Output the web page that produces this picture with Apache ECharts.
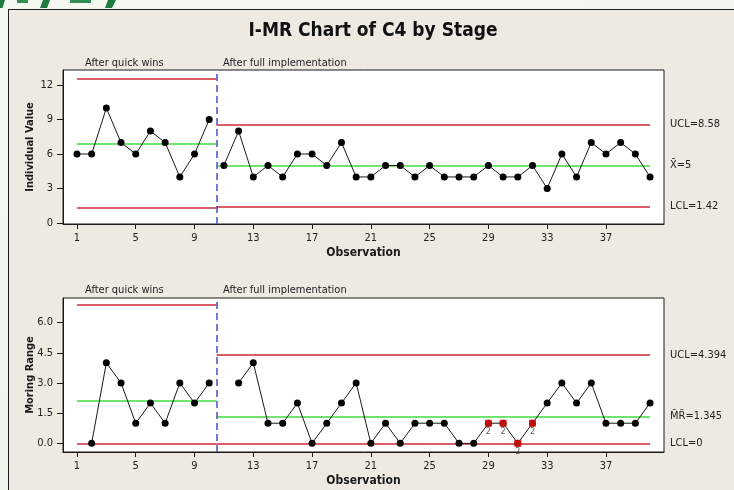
<!DOCTYPE html>
<html>
<head>
<meta charset="utf-8">
<script src="https://cdn.jsdelivr.net/npm/echarts@6/dist/echarts.min.js"></script>
<style>
  html, body { margin: 0; padding: 0; width: 734px; height: 490px; overflow: hidden;
    background: linear-gradient(160deg, #f4f8f0 0%, #eef3ea 100%); }
  #panel { position: absolute; left: 8px; top: 9px; width: 760px; height: 520px;
    background: #eeeae2; border: 1.5px solid #1e1e1e; box-sizing: border-box; }
  #logo { position: absolute; left: 0; top: 0; }
  #chart { position: absolute; left: 0; top: 0; width: 734px; height: 490px; }
</style>
</head>
<body>
<svg id="logo" width="130" height="10" viewBox="0 0 130 10">
  <path d="M0 0 L5 0 L2.5 8 L0 8 Z" fill="#1f7a3e"/>
  <rect x="17" y="0" width="11" height="3" fill="#2f8f55"/>
  <path d="M43 0 L50 0 L47 8 L40 8 Z" fill="#1f7a3e"/>
  <rect x="70" y="0" width="21" height="3" fill="#2f8f55"/>
  <path d="M108 0 L116 0 L112 8 L105 8 Z" fill="#1f7a3e"/>
</svg>
<div id="panel"></div>
<div id="chart"></div>
<script>
// Individual measurements, one array per stage (observations 1-10 and 11-40)
const stage1Values = [6, 6, 10, 7, 6, 8, 7, 4, 6, 9];
const stage2Values = [5, 8, 4, 5, 4, 6, 6, 5, 7, 4,
                      4, 5, 5, 4, 5, 4, 4, 4, 5, 4,
                      4, 5, 3, 6, 4, 7, 6, 7, 6, 4];

// Moving ranges (first point of each stage has none)
const stage1MR = [null, 0, 4, 3, 1, 2, 1, 3, 2, 3];
const stage2MR = [null, 3, 4, 1, 1, 2, 0, 1, 2, 3,
                  0, 1, 0, 1, 1, 1, 0, 0, 1, 1,
                  0, 1, 2, 3, 2, 3, 1, 1, 1, 2];

// First observation number of each stage
const stage1Start = 1;
const stage2Start = 11;
const stageBoundary = 10.5;
const lastObs = 40;

// Control limits [UCL, centre, LCL]
const iLimits1 = [12.52, 6.9, 1.28];
const iLimits2 = [8.58, 5, 1.42];
const mrLimits1 = [6.897, 2.111, 0];
const mrLimits2 = [4.394, 1.345, 0];

// Points failing test 2 on the moving range chart
const flaggedObs = [29, 30, 31, 32];
const flaggedTest = ['2', '2', '2', '2'];

// Tick labels
const xTicks = [1, 5, 9, 13, 17, 21, 25, 29, 33, 37];
const iTicks = [0, 3, 6, 9, 12];
const mrTicks = [0, 1.5, 3, 4.5, 6];

const stageNames = ['After quick wins', 'After full implementation'];

const FONT = "'DejaVu Sans Condensed', 'Liberation Sans', sans-serif";
const RED = '#cc2b37';
const GREEN = '#3fdc3f';
const INK = '#1a1a1a';

function pairs(values, start) {
  return values.map((v, i) => [start + i, v]);
}

function limitLines(lims, from, to, labels) {
  const colors = [RED, GREEN, RED];
  return lims.map((v, k) => {
    const seg = [
      { coord: [from, v], lineStyle: { color: colors[k] } },
      { coord: [to, v] }
    ];
    if (labels) {
      seg[0].label = {
        show: true, position: 'end', distance: 20,
        formatter: labels[k] + '=' + v,
        color: '#222', fontSize: 11, fontFamily: FONT
      };
    } else {
      seg[0].label = { show: false };
    }
    return seg;
  });
}

function xAxisFor(gridIndex) {
  return {
    type: 'value', gridIndex, min: 0.05, max: 40.95,
    name: 'Observation', nameLocation: 'middle', nameGap: 23,
    nameTextStyle: { fontWeight: 'bold', fontSize: 12, color: INK, fontFamily: FONT },
    axisLine: { show: true, onZero: false, lineStyle: { color: INK, width: 1 } },
    axisTick: { show: true, length: 5, customValues: xTicks, lineStyle: { color: INK } },
    axisLabel: { customValues: xTicks, margin: 9, fontSize: 11, color: '#222', fontFamily: FONT },
    splitLine: { show: false }
  };
}

function yAxisFor(gridIndex, min, max, ticks, name, digits) {
  return {
    type: 'value', gridIndex, min, max,
    name, nameLocation: 'middle', nameGap: 27, nameRotate: 90, nameMoveOverlap: false,
    nameTextStyle: { fontWeight: 'bold', fontSize: 11, color: INK, fontFamily: FONT },
    axisLine: { show: true, onZero: false, lineStyle: { color: INK, width: 1 } },
    axisTick: { show: true, length: 6, customValues: ticks, lineStyle: { color: INK } },
    axisLabel: { customValues: ticks, margin: 10, fontSize: 11, color: '#222', fontFamily: FONT,
                 formatter: v => v.toFixed(digits) },
    splitLine: { show: false }
  };
}

function dataSeries(values, start, xi, yi) {
  return {
    type: 'line', xAxisIndex: xi, yAxisIndex: yi, z: 5,
    data: pairs(values, start),
    symbol: 'circle', symbolSize: 7, connectNulls: false,
    lineStyle: { color: INK, width: 1 },
    itemStyle: { color: '#000' },
    emphasis: { disabled: true }, animation: false
  };
}

function limitSeries(xi, yi, lims1, lims2, labels) {
  return {
    type: 'line', xAxisIndex: xi, yAxisIndex: yi, z: 2, data: [],
    markLine: {
      silent: true, symbol: 'none', animation: false,
      lineStyle: { width: 1.5, type: 'solid' },
      data: [
        ...limitLines(lims1, stage1Start, stageBoundary, null),
        ...limitLines(lims2, stageBoundary, lastObs, labels),
        { xAxis: stageBoundary, label: { show: false },
          lineStyle: { color: '#4a4fc8', width: 1.5, type: [7, 4] } }
      ]
    }
  };
}

const flaggedData = flaggedObs.map((obs, i) => ({
  value: [obs, stage2MR[obs - stage2Start]],
  label: { formatter: flaggedTest[i] }
}));

const labelFont = "11px 'DejaVu Sans Condensed', 'Liberation Sans', sans-serif";

const option = {
  animation: false,
  backgroundColor: 'transparent',
  grid: [
    { left: 63, top: 70, width: 601, height: 154, show: true,
      backgroundColor: '#ffffff', borderColor: INK, borderWidth: 1 },
    { left: 63, top: 298, width: 601, height: 154, show: true,
      backgroundColor: '#ffffff', borderColor: INK, borderWidth: 1 }
  ],
  xAxis: [xAxisFor(0), xAxisFor(1)],
  yAxis: [
    yAxisFor(0, -0.1, 13.32, iTicks, 'Individual Value', 0),
    yAxisFor(1, -0.43, 7.22, mrTicks, 'Moring Range', 1)
  ],
  graphic: [
    { type: 'text', style: {
        text: 'I-MR Chart of C4 by Stage', x: 373, y: 31, align: 'center', verticalAlign: 'middle',
        font: "bold 19px 'DejaVu Sans Condensed', 'Liberation Sans', sans-serif", fill: '#111' } },
    { type: 'text', style: { text: stageNames[0], x: 85, y: 63, verticalAlign: 'middle',
        font: labelFont, fill: '#222' } },
    { type: 'text', style: { text: stageNames[1], x: 223, y: 63, verticalAlign: 'middle',
        font: labelFont, fill: '#222' } },
    { type: 'text', style: { text: stageNames[0], x: 85, y: 290, verticalAlign: 'middle',
        font: labelFont, fill: '#222' } },
    { type: 'text', style: { text: stageNames[1], x: 223, y: 290, verticalAlign: 'middle',
        font: labelFont, fill: '#222' } }
  ],
  series: [
    limitSeries(0, 0, iLimits1, iLimits2, ['UCL', 'X\u0304', 'LCL']),
    dataSeries(stage1Values, stage1Start, 0, 0),
    dataSeries(stage2Values, stage2Start, 0, 0),
    limitSeries(1, 1, mrLimits1, mrLimits2, ['UCL', 'M\u0304R\u0304', 'LCL']),
    dataSeries(stage1MR, stage1Start, 1, 1),
    dataSeries(stage2MR, stage2Start, 1, 1),
    {
      type: 'scatter', xAxisIndex: 1, yAxisIndex: 1, z: 6,
      data: flaggedData, symbol: 'rect', symbolSize: 7,
      itemStyle: { color: '#ee1111' },
      label: { show: true, position: 'bottom', distance: 0, fontSize: 9,
               color: '#333', fontFamily: FONT },
      emphasis: { disabled: true }
    }
  ]
};

const chart = echarts.init(document.getElementById('chart'), null, { renderer: 'canvas' });
chart.setOption(option);
</script>
</body>
</html>
